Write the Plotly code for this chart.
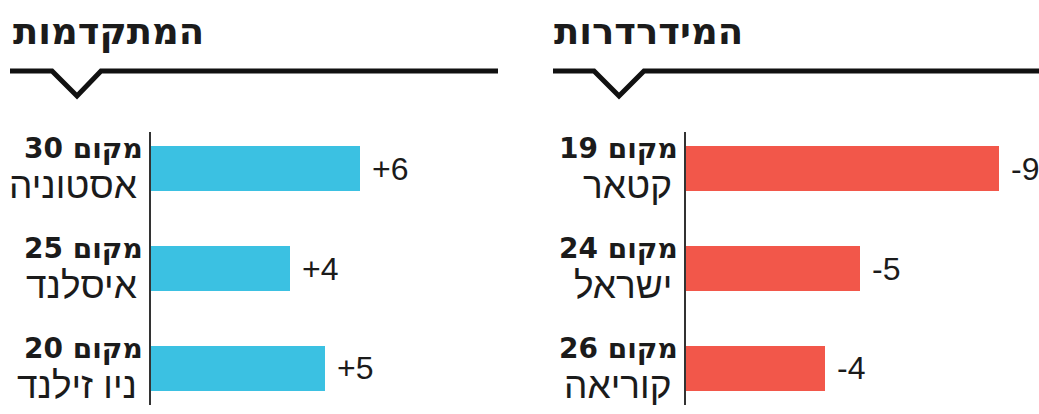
import plotly.graph_objects as go

# ---- data ----
up_names = ["אסטוניה", "איסלנד", "ניו זילנד"]
up_ranks = [30, 25, 20]
up_change = [6, 4, 5]

down_names = ["קטאר", "ישראל", "קוריאה"]
down_ranks = [19, 24, 26]
down_change = [-9, -5, -4]

titles = ["המתקדמות", "המידרדרות"]

# ---- layout helpers ----
W, H = 1039, 414
BLUE = "#3bc1e2"
RED = "#f2574a"
TXT = "#1b1b1b"
UNIT = 34.8  # px per unit

def px(x):
    return x / W

def py(y):
    return 1 - y / H

fig = go.Figure()

ypos = list(range(len(up_names)))

fig.add_trace(go.Bar(
    x=[abs(v) for v in up_change], y=ypos, orientation="h",
    marker=dict(color=BLUE, line=dict(width=0)), width=0.45,
    xaxis="x", yaxis="y", hoverinfo="skip", showlegend=False,
))
fig.add_trace(go.Bar(
    x=[abs(v) for v in down_change], y=ypos, orientation="h",
    marker=dict(color=RED, line=dict(width=0)), width=0.45,
    xaxis="x2", yaxis="y2", hoverinfo="skip", showlegend=False,
))

left_dom = [151, 498]
right_dom = [686, W]
ydom = [py(405), py(132)]

ax_common = dict(showgrid=False, zeroline=False, showticklabels=False,
                 showline=False, ticks="", fixedrange=True)
ay_common = dict(showgrid=False, zeroline=False, showticklabels=False,
                 showline=True, linecolor="#333333", linewidth=2, ticks="",
                 range=[2.37, -0.37], domain=ydom, fixedrange=True)

fig.update_layout(
    width=W, height=H,
    margin=dict(l=0, r=0, t=0, b=0),
    paper_bgcolor="white", plot_bgcolor="white",
    xaxis=dict(domain=[px(left_dom[0]), px(left_dom[1])],
               range=[0, (left_dom[1] - left_dom[0]) / UNIT], anchor="y", **ax_common),
    yaxis=dict(anchor="x", **ay_common),
    xaxis2=dict(domain=[px(right_dom[0]), 1],
                range=[0, (right_dom[1] - right_dom[0]) / UNIT], anchor="y2", **ax_common),
    yaxis2=dict(anchor="x2", **ay_common),
    bargap=0,
)

ann = []
BOLD = "DejaVu Sans"
REG = "Liberation Sans, Arial, DejaVu Sans"

def labels(names, ranks, changes, xr, yr, signfmt):
    for i, (n, r, c) in enumerate(zip(names, ranks, changes)):
        ann.append(dict(x=0, y=i, xref=xr, yref=yr, xanchor="right", yanchor="middle",
                        xshift=-6, yshift=20, showarrow=False,
                        text=f"<b>מקום {r}</b>",
                        font=dict(family=BOLD, size=28, color=TXT)))
        ann.append(dict(x=0, y=i, xref=xr, yref=yr, xanchor="right", yanchor="middle",
                        xshift=-12, yshift=-17, showarrow=False,
                        text=n, font=dict(family=REG, size=37, color=TXT)))
        ann.append(dict(x=abs(c), y=i, xref=xr, yref=yr, xanchor="left", yanchor="middle",
                        xshift=10, showarrow=False,
                        text=signfmt(c), font=dict(family=REG, size=32, color=TXT)))

labels(up_names, up_ranks, up_change, "x", "y", lambda v: f"+{v}")
labels(down_names, down_ranks, down_change, "x2", "y2", lambda v: f"{v}")

# titles
for t, x0 in zip(titles, [11, 552]):
    ann.append(dict(x=px(x0), y=py(31), xref="paper", yref="paper",
                    xanchor="left", yanchor="middle", showarrow=False,
                    text=f"<b>{t}</b>", font=dict(family=BOLD, size=37, color=TXT)))

fig.update_layout(annotations=ann)

# header lines with notch
def header(x0, xa, xm, xb, x1):
    yl, yd = 71, 96
    path = (f"M {px(x0)},{py(yl)} L {px(xa)},{py(yl)} L {px(xm)},{py(yd)} "
            f"L {px(xb)},{py(yl)} L {px(x1)},{py(yl)}")
    return dict(type="path", xref="paper", yref="paper", path=path,
                line=dict(color="#111111", width=5))

fig.update_layout(shapes=[header(10, 52, 77, 101, 498),
                          header(553, 594, 619, 644, W + 5)])

fig.write_html("out.html",
               config={"displayModeBar": False, "staticPlot": True},
               post_script="document.body.style.margin='0';document.body.style.overflow='hidden';")
